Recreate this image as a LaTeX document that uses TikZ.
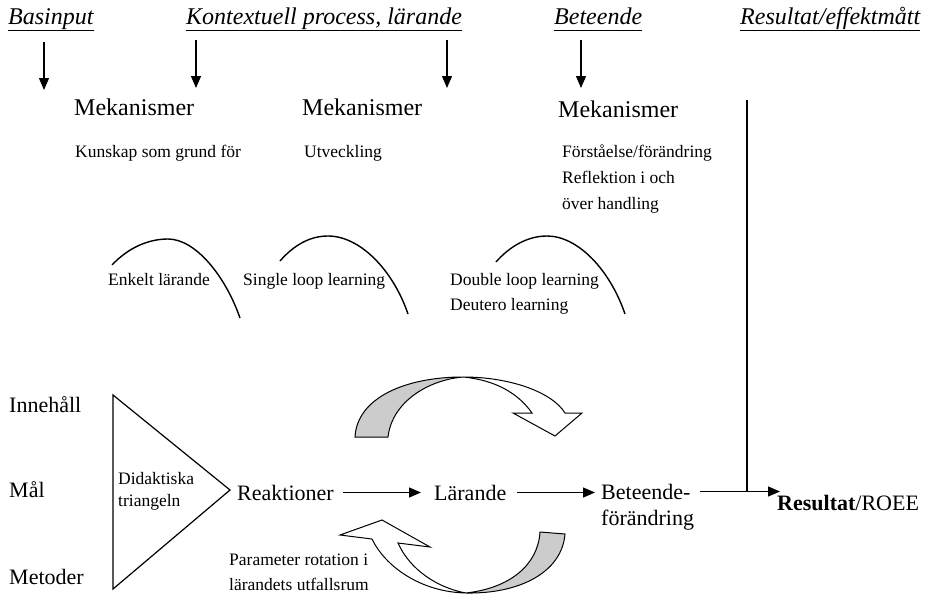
\documentclass[tikz,border=0pt]{standalone}
\usepackage{fontspec}
\setmainfont{Liberation Serif}
\usetikzlibrary{arrows.meta}
\begin{document}
\begin{tikzpicture}[x=1pt,y=-1pt,
  hdr/.style={font=\fontsize{24}{28}\selectfont\itshape, anchor=base west, inner sep=0pt},
  big/.style={font=\fontsize{24}{28}\selectfont, anchor=base west, inner sep=0pt},
  mid/.style={font=\fontsize{22}{26}\selectfont, anchor=base west, inner sep=0pt, text height=15pt, text depth=0pt},
  small/.style={font=\fontsize{17.5}{21}\selectfont, anchor=base west, inner sep=0pt},
  uline/.style={line width=1.1pt},
  arr/.style={line width=1.2pt, -{Triangle[length=12pt,width=10pt]}},
  plain/.style={line width=1.2pt},
  curve/.style={line width=1.4pt},
  ribbonw/.style={line width=1pt, fill=white, draw=black},
  ribbong/.style={line width=1pt, fill=black!20, draw=black}]
\useasboundingbox (0,0) rectangle (929,597);

% headers
\node[hdr] (h1) at (8,24) {Basinput};
\node[hdr] (h2) at (186,24) {Kontextuell process, lärande};
\node[hdr] (h3) at (554,24) {Beteende};
\node[hdr] (h4) at (740,24) {Resultat/effektmått};
\foreach \h in {h1,h2,h3,h4}
  \draw[uline] ([yshift=-6.5pt]\h.base west) -- ([yshift=-6.5pt]\h.base east);

% down arrows
\coordinate (a1s) at (44,42);  \coordinate (a1e) at (44,90);
\coordinate (a2s) at (196,40); \coordinate (a2e) at (196,88);
\coordinate (a3s) at (447,40); \coordinate (a3e) at (447,88);
\coordinate (a4s) at (581,40); \coordinate (a4e) at (581,88);
\draw[arr] (a1s) -- (a1e);
\draw[arr] (a2s) -- (a2e);
\draw[arr] (a3s) -- (a3e);
\draw[arr] (a4s) -- (a4e);

% mechanisms
\node[big] (m1) at (74,115) {Mekanismer};
\node[big] (m2) at (302,115) {Mekanismer};
\node[big] (m3) at (558,117) {Mekanismer};
\node[small] (k1) at (75,157) {Kunskap som grund för};
\node[small] (k2) at (304,157) {Utveckling};
\node[small] (k3) at (562,157) {Förståelse/förändring};
\node[small] (k4) at (562,183) {Reflektion i och};
\node[small] (k5) at (562,209) {över handling};

% arcs
\draw[curve] (112,265) .. controls (128,248) and (148,239) .. (168,239)
  .. controls (195,239) and (225,275) .. (240,318);
\draw[curve] (280,261) .. controls (294,245) and (310,236) .. (328,236)
  .. controls (360,236) and (393,270) .. (408,314);
\draw[curve] (496,262) .. controls (510,246) and (528,236) .. (547,236)
  .. controls (578,236) and (610,270) .. (625,314);
\node[small] (l1) at (108,285) {Enkelt lärande};
\node[small] (l2) at (243,285) {Single loop learning};
\node[small] (l3) at (450,285) {Double loop learning};
\node[small] (l4) at (450,310) {Deutero learning};

% left labels and triangle
\node[mid] (in) at (9,412) {Innehåll};
\node[mid] (ma) at (9,497) {Mål};
\node[mid] (me) at (9,584) {Metoder};
\draw[plain] (113,395) -- (230,490) -- (113,589) -- cycle;
\node[small] (d1) at (118,484) {Didaktiska};
\node[small] (d2) at (118,506) {triangeln};

% main row
\node[mid] (reak) at (237,500) {Reaktioner};
\node[mid] (lar) at (434,500) {Lärande};
\node[mid] (bet1) at (601,499) {Beteende-};
\node[mid] (bet2) at (601,525) {förändring};
\node[mid] (res) at (777,510) {\textbf{Resultat}/ROEE};
\draw[arr, shorten <=9pt, shorten >=13pt] (reak.east) -- (reak.east -| lar.west);
\draw[arr, shorten <=11pt, shorten >=6pt] (lar.east) -- (lar.east -| bet1.west);
\coordinate (vtop) at (747,100);
\draw[plain] (vtop) -- (vtop |- bet1.east);
\draw[arr, shorten <=9pt, shorten >=-3pt] (bet1.east) -- (bet1.east -| res.west);

\node[small] (p1) at (229,565) {Parameter rotation i};
\node[small] (p2) at (229,590) {lärandets utfallsrum};

% upper ribbon arrow
\draw[ribbong] (355,437) .. controls (357,398) and (405,377) .. (463,377)
  .. controls (428,380) and (392,402) .. (388,437) -- cycle;
\draw[ribbonw] (463,377) .. controls (510,377) and (552,392) .. (565,413)
  -- (582,413) -- (555,436) -- (513,413) -- (532,413)
  .. controls (518,393) and (495,380) .. (463,377) -- cycle;

% lower ribbon arrow
\draw[ribbong] (540,532) -- (565,534) .. controls (562,572) and (520,594) .. (466,593)
  .. controls (510,588) and (538,565) .. (540,532) -- cycle;
\draw[ribbonw] (466,593) .. controls (420,592) and (385,566) .. (372,539)
  -- (340,535) -- (382,520) -- (430,547) -- (398,543)
  .. controls (410,570) and (438,588) .. (466,593) -- cycle;
\end{tikzpicture}
\end{document}
